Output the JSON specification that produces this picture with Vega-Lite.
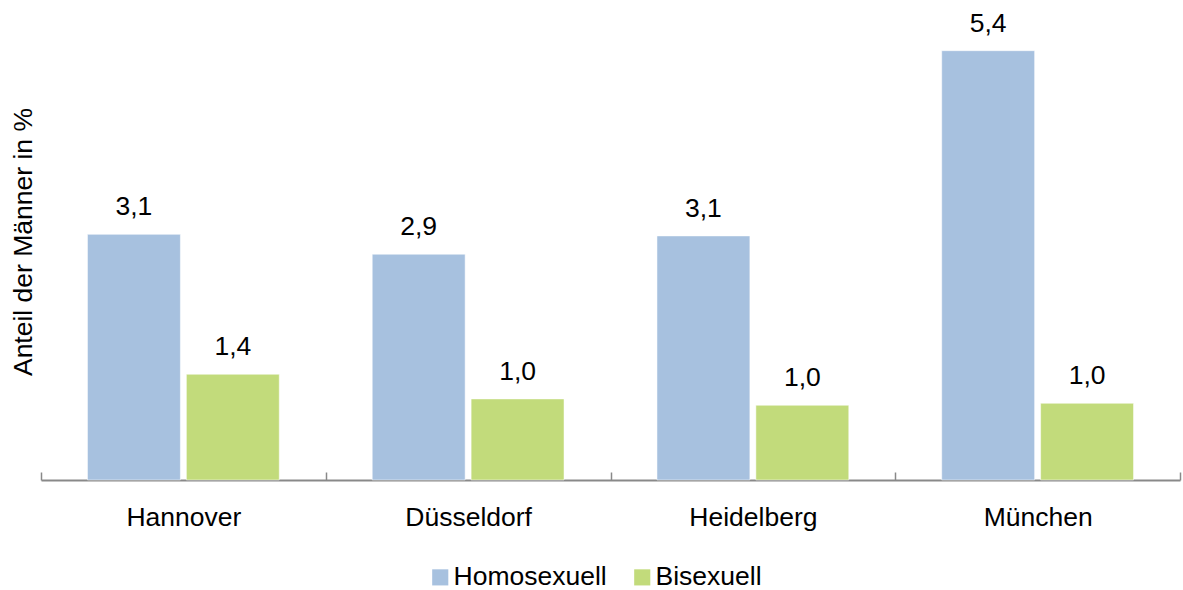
{
  "$schema": "https://vega.github.io/schema/vega-lite/v6.json",
  "autosize": {"type": "none"},
  "width": 1139,
  "height": 477,
  "padding": {"left": 41, "top": 3, "right": 3, "bottom": 110},
  "background": "white",
  "config": {
    "view": {"stroke": null},
    "font": "Liberation Sans",
    "text": {"font": "Liberation Sans"}
  },
  "data": {
    "values": [
      {"Stadt": "Hannover", "Gruppe": "Homosexuell", "Wert": 3.09, "Label": "3,1"},
      {"Stadt": "Hannover", "Gruppe": "Bisexuell", "Wert": 1.33, "Label": "1,4"},
      {"Stadt": "Düsseldorf", "Gruppe": "Homosexuell", "Wert": 2.84, "Label": "2,9"},
      {"Stadt": "Düsseldorf", "Gruppe": "Bisexuell", "Wert": 1.02, "Label": "1,0"},
      {"Stadt": "Heidelberg", "Gruppe": "Homosexuell", "Wert": 3.07, "Label": "3,1"},
      {"Stadt": "Heidelberg", "Gruppe": "Bisexuell", "Wert": 0.94, "Label": "1,0"},
      {"Stadt": "München", "Gruppe": "Homosexuell", "Wert": 5.4, "Label": "5,4"},
      {"Stadt": "München", "Gruppe": "Bisexuell", "Wert": 0.965, "Label": "1,0"}
    ]
  },
  "encoding": {
    "x": {
      "field": "Stadt",
      "type": "nominal",
      "sort": ["Hannover", "Düsseldorf", "Heidelberg", "München"],
      "scale": {"paddingInner": 0, "paddingOuter": 0},
      "axis": {
        "title": null,
        "labelAngle": 0,
        "labelFontSize": 26.5,
        "labelColor": "#000000",
        "labelFont": "Liberation Sans",
        "labelPadding": 32,
        "tickBand": "extent",
        "tickSize": -8,
        "tickColor": "#898989",
        "tickWidth": 1.5,
        "domainColor": "#898989",
        "domainWidth": 2
      }
    },
    "xOffset": {
      "field": "Gruppe",
      "type": "nominal",
      "sort": ["Homosexuell", "Bisexuell"],
      "scale": {"paddingInner": 0.0606, "paddingOuter": 0.47}
    },
    "y": {
      "field": "Wert",
      "type": "quantitative",
      "scale": {"domain": [0, 6]},
      "axis": {
        "title": "Anteil der Männer in %",
        "titleFontSize": 26.5,
        "titleFontWeight": "normal",
        "titleColor": "#000000",
        "titleFont": "Liberation Sans",
        "titlePadding": 4,
        "labels": false,
        "ticks": false,
        "domain": false,
        "grid": false
      }
    }
  },
  "layer": [
    {
      "mark": {"type": "bar", "stroke": "white", "strokeWidth": 0.5},
      "encoding": {
        "color": {
          "field": "Gruppe",
          "type": "nominal",
          "sort": ["Homosexuell", "Bisexuell"],
          "scale": {"domain": ["Homosexuell", "Bisexuell"], "range": ["#A7C1DF", "#C2DB7B"]},
          "legend": {
            "title": null,
            "orient": "none",
            "legendX": 386,
            "legendY": 561,
            "direction": "horizontal",
            "labelFontSize": 26.5,
            "labelColor": "#000000",
            "labelFont": "Liberation Sans",
            "symbolType": "square",
            "symbolSize": 260,
            "symbolStrokeWidth": 0,
            "labelOffset": 0,
            "columnPadding": 22
          }
        }
      }
    },
    {
      "mark": {"type": "text", "baseline": "alphabetic", "dy": -19, "fontSize": 26.5, "color": "#000000", "font": "Liberation Sans"},
      "encoding": {
        "text": {"field": "Label", "type": "nominal"}
      }
    }
  ]
}
